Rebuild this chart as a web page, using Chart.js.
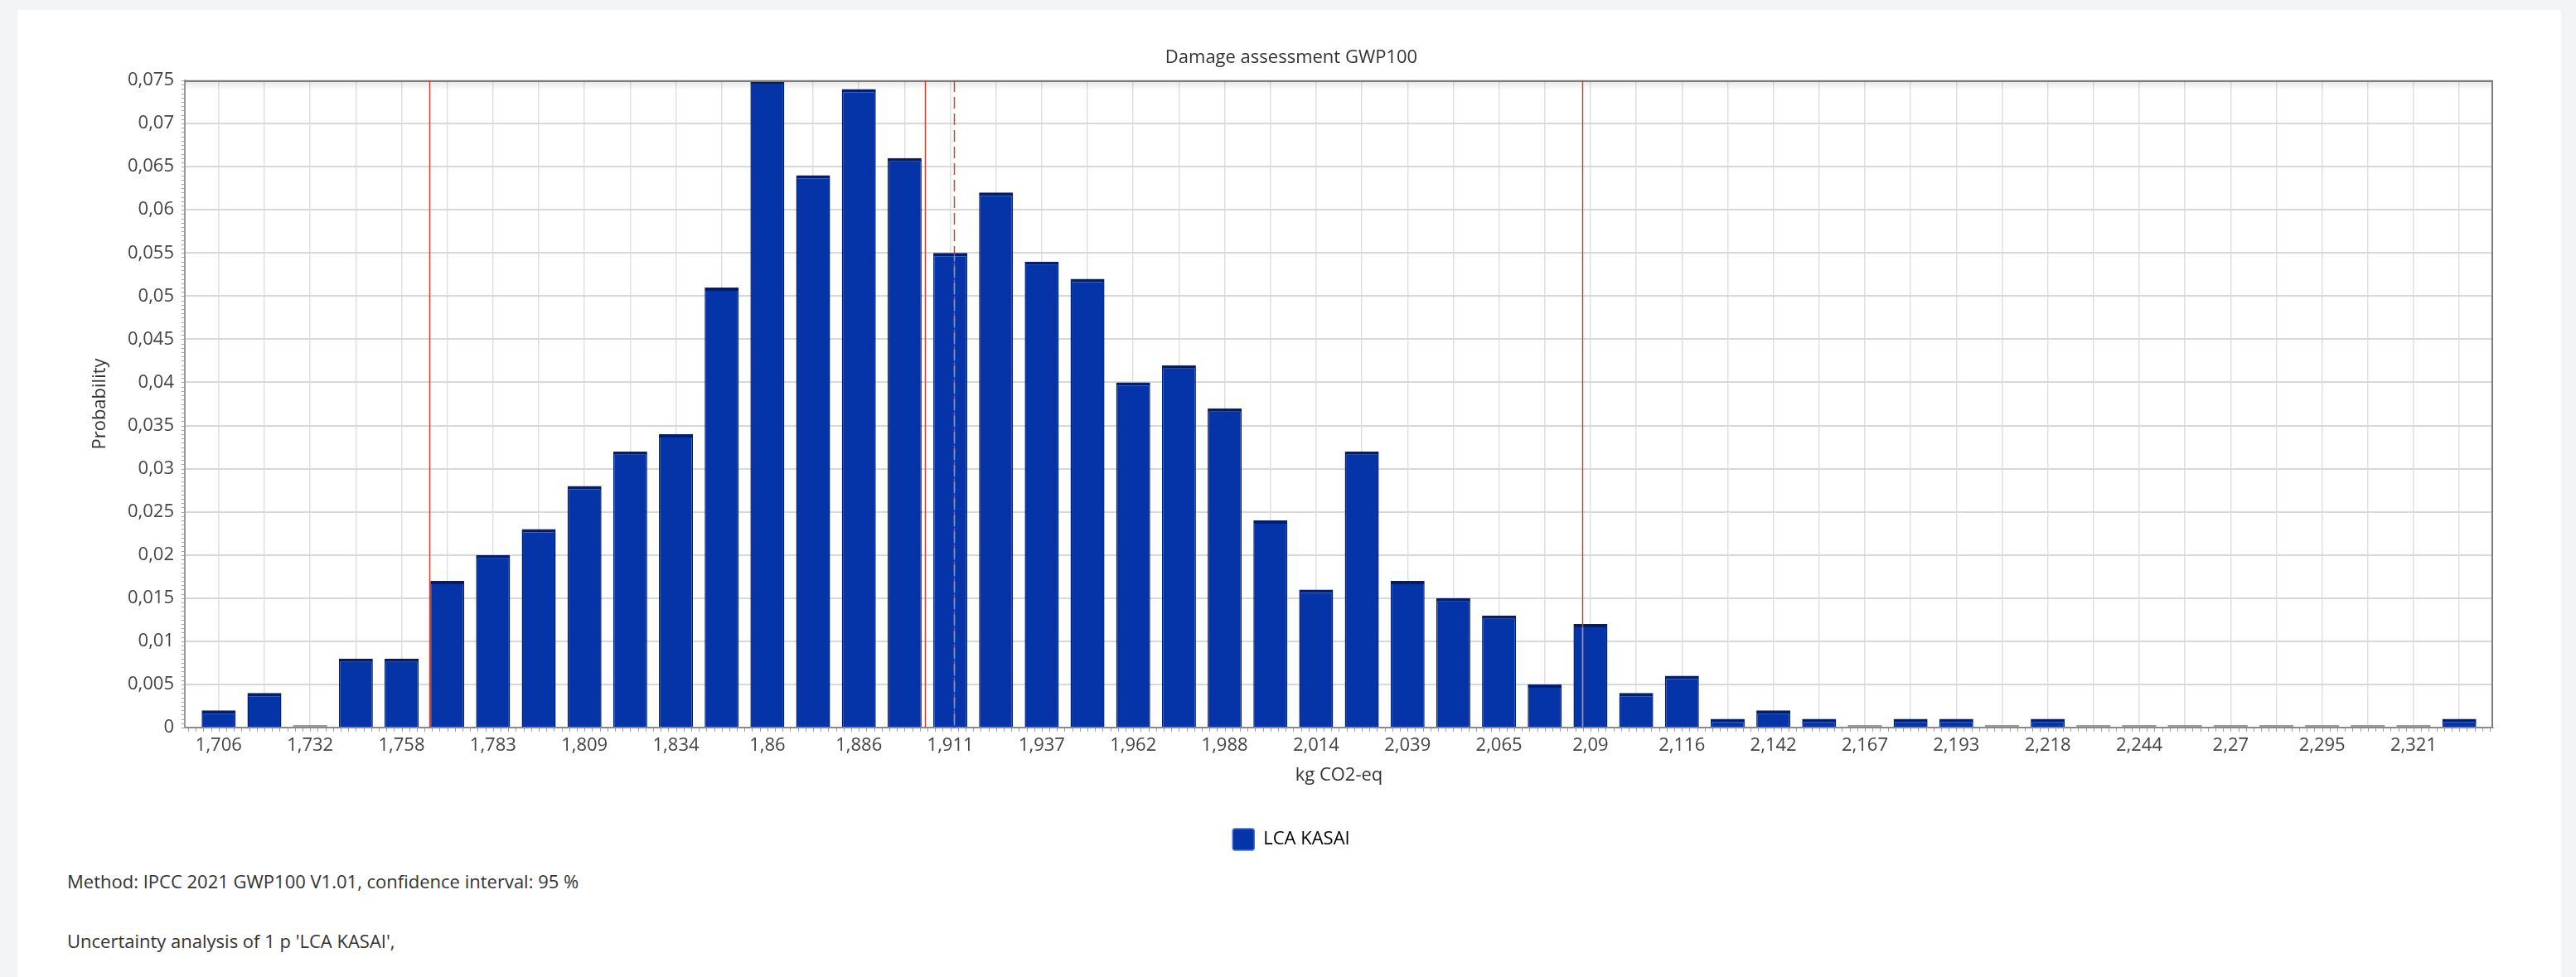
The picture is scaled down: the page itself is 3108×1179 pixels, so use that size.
<!DOCTYPE html>
<html>
<head>
<meta charset="utf-8">
<title>Damage assessment GWP100</title>
<script src="https://cdn.jsdelivr.net/npm/chart.js@4.4.1/dist/chart.umd.min.js"></script>
<style>
  html, body { margin: 0; padding: 0; }
  body {
    width: 3108px; height: 1179px; overflow: hidden;
    background: #f3f4f6; position: relative;
    font-family: "Open Sans", "Noto Sans", sans-serif;
  }
  #card {
    position: absolute; left: 21px; top: 12px; width: 3069px; height: 1200px;
    background: #ffffff;
  }
  #chart { position: absolute; left: 0; top: 0; }
  .note {
    position: absolute; left: 81px; margin: 0;
    font-size: 22px; line-height: 30px; color: #333333; white-space: nowrap;
  }
</style>
</head>
<body>
<div id="card"></div>
<canvas id="chart" width="3108" height="1036"></canvas>
<p class="note" style="top:1048px">Method: IPCC 2021 GWP100 V1.01, confidence interval: 95 %</p>
<p class="note" style="top:1120px">Uncertainty analysis of 1 p 'LCA KASAI',</p>

<script>
// Labels under every second bin (kg CO2-eq)
const tickLabels = ['1,706','1,732','1,758','1,783','1,809','1,834','1,86','1,886','1,911','1,937',
  '1,962','1,988','2,014','2,039','2,065','2,09','2,116','2,142','2,167','2,193',
  '2,218','2,244','2,27','2,295','2,321'];

// Probability of each bin, left to right
const probability = [
  0.002, 0.004, 0, 0.008, 0.008, 0.017, 0.020, 0.023, 0.028, 0.032,
  0.034, 0.051, 0.075, 0.064, 0.074, 0.066, 0.055, 0.062, 0.054, 0.052,
  0.040, 0.042, 0.037, 0.024, 0.016, 0.032, 0.017, 0.015, 0.013, 0.005,
  0.012, 0.004, 0.006, 0.001, 0.002, 0.001, 0, 0.001, 0.001, 0,
  0.001, 0, 0, 0, 0, 0, 0, 0, 0, 0.001
];

// Reference lines in kg CO2-eq
const ciLower = 1.765;
const median = 1.904;
const mean = 1.912;
const ciUpper = 2.088;

const seriesName = 'LCA KASAI';
const FONT = '"Open Sans", "Noto Sans", sans-serif';
const BAR = '#0434a8';
const BAR_EDGE = '#001e70';

// bin index <-> kg CO2-eq, taken from the first and last labelled bins
const toNum = s => parseFloat(s.replace(',', '.'));
const firstVal = toNum(tickLabels[0]);
const binStep = (toNum(tickLabels[tickLabels.length - 1]) - firstVal) / ((tickLabels.length - 1) * 2);
const toIndex = v => (v - firstVal) / binStep;

const markers = [
  { value: ciLower, dash: [] },
  { value: median, dash: [] },
  { value: mean, dash: [14, 6] },
  { value: ciUpper, dash: [] }
];

const fmtComma = v => String(+v.toFixed(3)).replace('.', ',');

// Frame, inner shade under the top edge and minor tick marks
const plotFrame = {
  id: 'plotFrame',
  beforeDatasetsDraw(chart) {
    const { ctx, chartArea: a } = chart;
    ctx.save();
    const g = ctx.createLinearGradient(0, a.top, 0, a.top + 12);
    g.addColorStop(0, 'rgba(0,0,0,0.10)');
    g.addColorStop(1, 'rgba(0,0,0,0)');
    ctx.fillStyle = g;
    ctx.fillRect(a.left, a.top, a.right - a.left, 12);
    ctx.restore();
  },
  afterDatasetsDraw(chart) {
    const { ctx, chartArea: a, scales: { x, y } } = chart;
    ctx.save();
    ctx.strokeStyle = '#7c7c7c';
    ctx.lineWidth = 2;
    ctx.beginPath();
    ctx.moveTo(a.left, a.top + 1);
    ctx.lineTo(a.right - 1, a.top + 1);
    ctx.lineTo(a.right - 1, a.bottom);
    ctx.stroke();

    // minor ticks
    ctx.strokeStyle = '#9aa3ad';
    ctx.lineWidth = 1;
    ctx.beginPath();
    for (let t = Math.ceil(x.min * 6); t <= Math.floor(x.max * 6); t++) {
      const px = Math.round(x.getPixelForValue(t / 6)) + 0.5;
      ctx.moveTo(px, a.bottom + 1);
      ctx.lineTo(px, a.bottom + 5);
    }
    for (let t = 0; t <= 150; t++) {
      const py = Math.round(y.getPixelForValue(t * 0.0005)) + 0.5;
      ctx.moveTo(a.left - 4, py);
      ctx.lineTo(a.left - 1, py);
    }
    ctx.stroke();
    ctx.restore();
  }
};

// Confidence interval, median and mean lines
const markerLines = {
  id: 'markerLines',
  afterDatasetsDraw(chart) {
    const { ctx, chartArea: a, scales: { x } } = chart;
    const bars = chart.getDatasetMeta(0).data;
    ctx.save();
    ctx.beginPath();
    ctx.rect(a.left, a.top, a.right - a.left, a.bottom - a.top);
    ctx.clip();
    ctx.lineWidth = 1.5;
    markers.forEach(m => {
      const px = Math.round(x.getPixelForValue(toIndex(m.value))) + 0.5;
      ctx.setLineDash(m.dash);
      ctx.lineDashOffset = 0;
      ctx.strokeStyle = '#c9433b';
      ctx.beginPath();
      ctx.moveTo(px, a.top);
      ctx.lineTo(px, a.bottom);
      ctx.stroke();
      bars.forEach(b => {
        const half = b.width / 2;
        if (px > b.x - half + 1 && px < b.x + half - 1 && b.base - b.y > 4) {
          ctx.strokeStyle = '#54a9ea';
          ctx.lineDashOffset = -(b.y + 4 - a.top);
          ctx.beginPath();
          ctx.moveTo(px, b.y + 4);
          ctx.lineTo(px, b.base);
          ctx.stroke();
        }
      });
    });
    ctx.restore();
  }
};

new Chart(document.getElementById('chart'), {
  type: 'bar',
  data: {
    datasets: [{
      label: seriesName,
      data: probability.map((p, i) => ({ x: i, y: p })),
      backgroundColor: c => (c.raw && c.raw.y === 0) ? '#9c9c9c' : BAR,
      borderColor: BAR_EDGE,
      borderWidth: c => (c.raw && c.raw.y === 0) ? 0 : { top: 4, left: 1.5, right: 1.5, bottom: 0 },
      borderSkipped: 'bottom',
      minBarLength: 3,
      barPercentage: 0.743,
      categoryPercentage: 1
    }]
  },
  options: {
    responsive: false,
    devicePixelRatio: 1,
    animation: false,
    layout: { padding: { left: 108, right: 100, top: 0, bottom: 0 } },
    plugins: {
      title: {
        display: true,
        text: 'Damage assessment GWP100',
        color: '#333333',
        font: { family: FONT, size: 22, weight: 'normal' },
        padding: { top: 56.8, bottom: 13.8 }
      },
      legend: {
        position: 'bottom',
        labels: {
          boxWidth: 26, boxHeight: 26, padding: 10,
          color: '#333333',
          font: { family: FONT, size: 22 },
          useBorderRadius: true,
          generateLabels: () => [{
            text: seriesName, fillStyle: BAR, strokeStyle: '#3f73d8',
            lineWidth: 1.5, borderRadius: 3, datasetIndex: 0, hidden: false
          }]
        }
      },
      tooltip: { enabled: false }
    },
    scales: {
      x: {
        type: 'linear',
        offset: false,
        min: -0.74,
        max: probability.length - 1 + 0.74,
        afterBuildTicks: s => { s.ticks = probability.map((_, i) => ({ value: i })); },
        afterFit: s => { s.height = 112; },
        ticks: {
          autoSkip: false, maxRotation: 0, minRotation: 0, padding: 9,
          color: '#444444', font: { family: FONT, size: 22 },
          callback: v => (v % 2 === 0 ? tickLabels[v / 2] : '')
        },
        grid: { offset: false, color: '#e0e0e0', lineWidth: 1.5, drawTicks: false },
        border: { color: '#8a8a8a', width: 2 },
        title: {
          display: true, text: 'kg CO2-eq', color: '#333333',
          font: { family: FONT, size: 22 }, padding: { top: 0, bottom: 41 }
        }
      },
      y: {
        min: 0,
        max: 0.075,
        afterFit: s => { s.width = 115; },
        ticks: {
          stepSize: 0.005, padding: 13,
          color: '#444444', font: { family: FONT, size: 22 },
          callback: v => fmtComma(v)
        },
        grid: { color: '#d8d8d8', lineWidth: 2, drawTicks: false },
        border: { color: '#9a9a9a', width: 2 },
        title: {
          display: true, text: 'Probability', color: '#333333',
          font: { family: FONT, size: 22 }, padding: { top: 0, bottom: 0 }
        }
      }
    }
  },
  plugins: [plotFrame, markerLines]
});
</script>
</body>
</html>
